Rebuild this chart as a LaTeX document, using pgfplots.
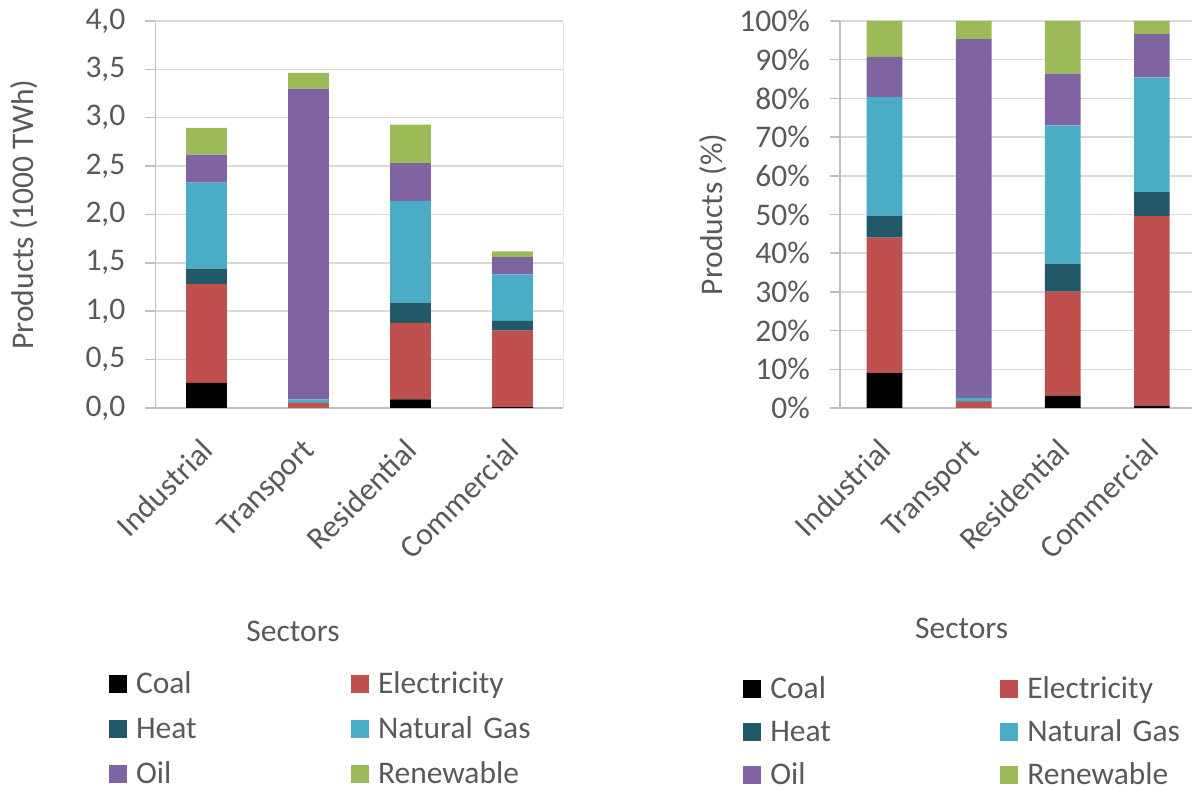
\documentclass[border=0pt]{standalone}
\usepackage{pgfplots}
\pgfplotsset{compat=1.18}
\usepackage{pgfplotstable}
\usepackage{fontspec}
\setmainfont{Carlito}
\definecolor{txt}{HTML}{595959}
\definecolor{gridc}{HTML}{D9D9D9}
\definecolor{axc}{HTML}{BFBFBF}
\definecolor{cCoal}{HTML}{000000}
\definecolor{cElec}{HTML}{C0504D}
\definecolor{cHeat}{HTML}{215968}
\definecolor{cGas}{HTML}{4BACC6}
\definecolor{cOil}{HTML}{8064A2}
\definecolor{cRen}{HTML}{9BBB59}

\pgfplotstableread{
x coal elec heat gas oil ren
0 0.26 1.02 0.16 0.89 0.29 0.275
1 0.00 0.05 0.005 0.035 3.21 0.165
2 0.09 0.79 0.21 1.05 0.39 0.40
3 0.01 0.79 0.10 0.48 0.18 0.06
}\absdata

\pgfplotstableread{
x coal elec heat gas oil ren
0 9.0 35.0 5.7 30.6 10.4 9.3
1 0.0 1.5 0.2 0.9 92.7 4.7
2 3.2 26.9 7.2 35.7 13.4 13.6
3 0.5 49.1 6.2 29.6 11.2 3.4
}\pctdata

\pgfplotsset{
 mybase/.style={
  scale only axis, height=387pt, ybar stacked, bar width=0.4, xmin=-0.5,
  ymin=0, xtick={0,1,2,3}, xticklabels={Industrial,Transport,Residential,Commercial},
  font=\fontsize{31.5}{37}\selectfont,
  /pgf/number format/assume math mode=true,
  axis x line*=bottom, axis y line*=left,
  axis line style={axc, line width=1.5pt, -},
  ymajorgrids, grid style={gridc, line width=1.5pt},
  tick align=outside, major tick length=10pt,
  ytick style={axc, line width=1.5pt}, xtick style={draw=none},
  tick label style={text=txt},
  xticklabel style={xshift=-7pt, yshift=-19pt, rotate=45, anchor=north east, inner sep=0pt},
  yticklabel style={anchor=east, inner sep=0pt, xshift=-20pt},
  label style={text=txt},
  xlabel={Sectors},
  legend columns=2,
  legend image code/.code={\fill[##1] (0pt,0pt) rectangle (18pt,18pt);},
  legend style={draw=none, fill=none, inner sep=0pt, outer sep=0pt, anchor=south west, text=txt,
     cells={anchor=base west},
     nodes={inner sep=0pt, text height=22pt, text depth=0pt, text width=160pt, align=left},
     column sep=9pt},
 }
}

\begin{document}
\begin{tikzpicture}
\useasboundingbox (0,0) rectangle (1192pt,789pt);
\begin{axis}[mybase, at={(155.5pt,381pt)}, anchor=south west, width=408pt,
  xmax=3.5, ymax=4, ytick={0,0.5,1,1.5,2,2.5,3,3.5,4},
  yticklabel style={/pgf/number format/.cd, fixed, fixed zerofill, precision=1, use comma},
  ylabel={Products (1000 TWh)},
  ylabel style={at={(axis description cs:-0.2995,0.5)}, anchor=base},
  xlabel style={at={(axis description cs:0.337,-0.6039)}, anchor=base},
  legend style={at={(axis description cs:-0.11397,-0.96899)}, row sep=23pt,
     /tikz/every even column/.append style={column sep=55pt}},
]
\addplot[fill=cCoal, draw=none] table[x=x,y=coal]{\absdata};
\addlegendentry{Coal}
\addplot[fill=cElec, draw=none] table[x=x,y=elec]{\absdata};
\addlegendentry{Electricity}
\addplot[fill=cHeat, draw=none] table[x=x,y=heat]{\absdata};
\addlegendentry{Heat}
\addplot[fill=cGas, draw=none] table[x=x,y=gas]{\absdata};
\addlegendentry{Natural Gas}
\addplot[fill=cOil, draw=none] table[x=x,y=oil]{\absdata};
\addlegendentry{Oil}
\addplot[fill=cRen, draw=none] table[x=x,y=ren]{\absdata};
\addlegendentry{Renewable}
\draw[axc, line width=1.5pt] (rel axis cs:1,0) -- (rel axis cs:1,1);
\end{axis}

\begin{axis}[mybase, at={(840pt,381pt)}, anchor=south west, width=352pt,
  xmax=3.45, ymax=100, ytick={0,10,20,30,40,50,60,70,80,90,100},
  yticklabel={\pgfmathprintnumber{\tick}\%},
  ylabel={Products (\%)},
  ylabel style={at={(axis description cs:-0.3332,0.5)}, anchor=base},
  xlabel style={at={(axis description cs:0.3457,-0.5951)}, anchor=base},
  legend style={at={(axis description cs:-0.2747,-0.97235)}, row sep=21pt,
     /tikz/every even column/.append style={column sep=70pt}},
]
\addplot[fill=cCoal, draw=none] table[x=x,y=coal]{\pctdata};
\addlegendentry{Coal}
\addplot[fill=cElec, draw=none] table[x=x,y=elec]{\pctdata};
\addlegendentry{Electricity}
\addplot[fill=cHeat, draw=none] table[x=x,y=heat]{\pctdata};
\addlegendentry{Heat}
\addplot[fill=cGas, draw=none] table[x=x,y=gas]{\pctdata};
\addlegendentry{Natural Gas}
\addplot[fill=cOil, draw=none] table[x=x,y=oil]{\pctdata};
\addlegendentry{Oil}
\addplot[fill=cRen, draw=none] table[x=x,y=ren]{\pctdata};
\addlegendentry{Renewable}
\end{axis}
\end{tikzpicture}
\end{document}
